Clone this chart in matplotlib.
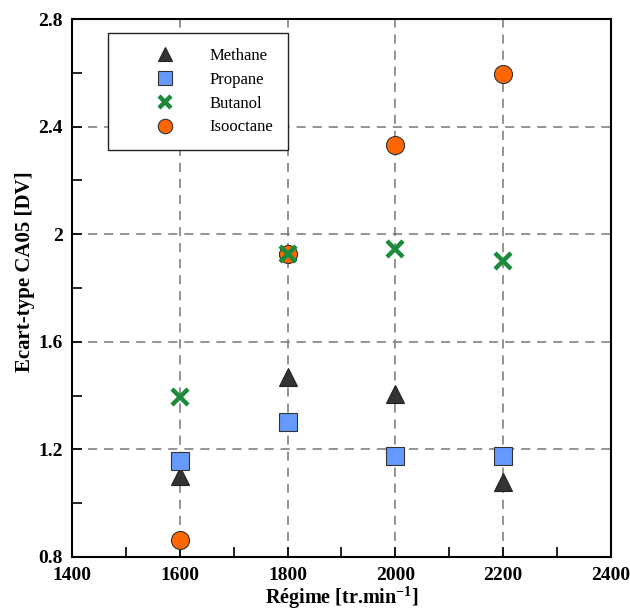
import matplotlib
matplotlib.use("Agg")
import matplotlib.pyplot as plt
from matplotlib.ticker import MultipleLocator, FixedLocator

regime = [1600, 1800, 2000, 2200]
methane = [1.10, 1.47, 1.405, 1.08]
propane = [1.155, 1.30, 1.175, 1.175]
butanol = [1.395, 1.925, 1.945, 1.90]
isooctane = [0.865, 1.925, 2.33, 2.595]

xticks = [1400, 1600, 1800, 2000, 2200, 2400]
yticks = [0.8, 1.2, 1.6, 2.0, 2.4, 2.8]
yticklabels = ["0.8", "1.2", "1.6", "2", "2.4", "2.8"]

plt.rcParams['font.family'] = ['Liberation Serif', 'DejaVu Serif']
plt.rcParams['mathtext.fontset'] = 'custom'
plt.rcParams['mathtext.rm'] = 'Liberation Serif'
plt.rcParams['mathtext.bf'] = 'Liberation Serif:bold'
plt.rcParams['mathtext.default'] = 'bf'

fig = plt.figure(figsize=(6.3, 6.11), dpi=100)
ax = fig.add_axes([0.1143, 0.0884, 0.9698 - 0.1143, 0.9689 - 0.0884])

ax.set_xlim(1400, 2400)
ax.set_ylim(0.8, 2.8)
ax.xaxis.set_major_locator(FixedLocator(xticks))
ax.yaxis.set_major_locator(FixedLocator(yticks))
ax.set_yticklabels(yticklabels)
ax.xaxis.set_minor_locator(MultipleLocator(100))
ax.yaxis.set_minor_locator(MultipleLocator(0.2))
ax.tick_params(which='both', direction='in', top=False, right=False,
               width=1.2, length=7, labelsize=14)
for lab in ax.get_xticklabels() + ax.get_yticklabels():
    lab.set_fontweight('bold')
ax.tick_params(axis='x', which='major', pad=7.5)
ax.tick_params(axis='y', which='major', pad=6.5)
for sp in ax.spines.values():
    sp.set_linewidth(1.5)

ax.grid(True, which='major', color='#777777', linestyle=(0, (6, 4.5)), linewidth=1.1)
ax.set_axisbelow(True)

ax.plot(regime, methane, linestyle='none', marker='^', markersize=13,
        markerfacecolor='#333333', markeredgecolor='#222222', markeredgewidth=0.8,
        label='Methane', zorder=3)
ax.plot(regime, propane, linestyle='none', marker='s', markersize=13,
        markerfacecolor='#6699FF', markeredgecolor='#333333', markeredgewidth=0.8,
        label='Propane', zorder=3)
ax.plot(regime, butanol, linestyle='none', marker='x', markersize=11,
        markeredgecolor='#1B8A3A', markeredgewidth=3.2,
        label='Butanol', zorder=5)
ax.plot(regime, isooctane, linestyle='none', marker='o', markersize=13,
        markerfacecolor='#FF6600', markeredgecolor='#333333', markeredgewidth=0.8,
        label='Isooctane', zorder=4)

leg = ax.legend(loc='upper left', bbox_to_anchor=(0.0668, 0.974), fontsize=12,
                frameon=True, fancybox=False, borderpad=0.9, labelspacing=0.47,
                handlelength=5.0, handletextpad=0.2, numpoints=1, markerscale=0.8,
                borderaxespad=0)
leg.get_frame().set_edgecolor('#222222')
leg.get_frame().set_linewidth(1.0)
leg.get_frame().set_alpha(1)

ax.set_xlabel('Régime [tr.min$^{-1}$]', fontsize=14.5, fontweight='bold', labelpad=0)
ax.set_ylabel('Ecart-type CA05 [DV]', fontsize=15, fontweight='bold')
ax.yaxis.set_label_coords(-0.0686, 0.531)

fig.savefig('out.png', dpi=100)
